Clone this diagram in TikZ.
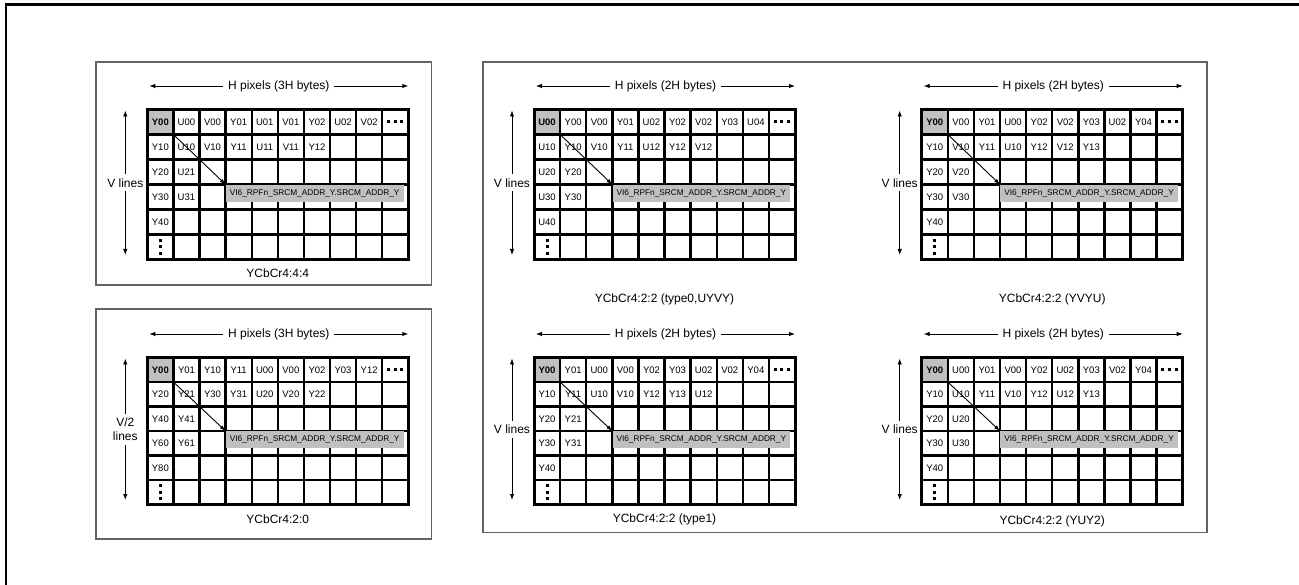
\documentclass[tikz,border=0pt]{standalone}
\usepackage{fontspec}
\setmainfont{Liberation Sans}
\usetikzlibrary{arrows.meta}
\definecolor{cellgray}{RGB}{192,192,192}
\definecolor{boxgray}{RGB}{100,100,100}
\tikzset{
  frame/.style={draw=boxgray, line width=1.3pt},
  gridline/.style={line width=2.4pt},
  gridouter/.style={line width=3pt},
  cell/.style={inner sep=0pt, font=\fontsize{9.5}{11}\selectfont},
  headcell/.style={inner sep=0pt, font=\fontsize{9.5}{11}\selectfont\bfseries},
  dimarrow/.style={line width=0.9pt, {Latex[length=6pt,width=4.5pt]}-{Latex[length=6pt,width=4.5pt]}},
  dimlabel/.style={fill=white, inner xsep=5pt, inner ysep=2pt, font=\fontsize{12}{14}\selectfont},
  vlabel/.style={fill=white, inner xsep=2pt, inner ysep=4pt, align=center, font=\fontsize{12}{14}\selectfont},
  caption/.style={inner sep=0pt, font=\fontsize{12}{14}\selectfont},
  addr/.style={fill=cellgray, inner sep=0pt, anchor=north west, font=\fontsize{8.3}{10}\selectfont, minimum height=17pt},
  ptr/.style={line width=0.9pt, -{Latex[length=6pt,width=4pt]}},
}
\newcommand{\ycpanel}[5]{%
 \begin{scope}[shift={(#2,#3)}]
  \def\cw{26.1}\def\rh{#4}
  \fill[cellgray] (0,0) rectangle (\cw,\rh);
  \foreach \rowlist [count=\rr from 0] in {#5} {
    \foreach \txt [count=\cc from 0] in \rowlist {
      \ifnum\rr\cc=0
        \node[headcell] (#1-\rr-\cc) at ({(\cc+0.5)*\cw},{(\rr+0.5)*\rh}) {\txt};
      \else
        \node[cell] (#1-\rr-\cc) at ({(\cc+0.5)*\cw},{(\rr+0.5)*\rh}) {\txt};
      \fi
    }
  }
  \foreach \i in {1,...,9} \draw[gridline] ({\i*\cw},0) -- ({\i*\cw},{6*\rh});
  \foreach \j in {1,...,5} \draw[gridline] (0,{\j*\rh}) -- ({10*\cw},{\j*\rh});
  \draw[gridouter] (0,0) rectangle ({10*\cw},{6*\rh});
  \foreach \d in {-6.7,0,6.7} {
    \fill ({9.5*\cw+\d-1.5},{0.5*\rh-1.5}) rectangle +(3,3);
    \fill ({0.5*\cw-1.5},{5.5*\rh+\d-1.5}) rectangle +(3,3);
  }
  \node[addr, minimum width={7*\cw-5}] (#1-addr) at ({3*\cw},{3*\rh}) {VI6\_RPFn\_SRCM\_ADDR\_Y.SRCM\_ADDR\_Y};
  \coordinate (#1-corner) at (\cw,\rh);
  \draw[ptr] (#1-corner) -- (#1-addr.north west);
  \coordinate (#1-hl) at (2,-23.5);
  \coordinate (#1-hr) at ({10*\cw},-23.5);
  \coordinate (#1-vt) at (-22,1);
  \coordinate (#1-vb) at (-22,{6*\rh-4.5});
 \end{scope}}
\begin{document}
\begin{tikzpicture}[x=1pt,y=-1pt]
\useasboundingbox (0,0) rectangle (1299,585);
\draw[line width=2.3pt] (6.2,585) -- (6.2,4.5) -- (1299,4.5);
\draw[frame] (96,62) rectangle (431.7,285);
\draw[frame] (96,309) rectangle (431.7,539);
\draw[frame] (483,62) rectangle (1207,532.5);

\ycpanel{pa}{147.3}{109.5}{25}{{Y00,U00,V00,Y01,U01,V01,Y02,U02,V02},{Y10,U10,V10,Y11,U11,V11,Y12},{Y20,U21},{Y30,U31},{Y40}}
\ycpanel{pb}{147.3}{357.5}{24.5}{{Y00,Y01,Y10,Y11,U00,V00,Y02,Y03,Y12},{Y20,Y21,Y30,Y31,U20,V20,Y22},{Y40,Y41},{Y60,Y61},{Y80}}
\ycpanel{pc}{534}{109.5}{25}{{U00,Y00,V00,Y01,U02,Y02,V02,Y03,U04},{U10,Y10,V10,Y11,U12,Y12,V12},{U20,Y20},{U30,Y30},{U40}}
\ycpanel{pd}{921.7}{109.5}{25}{{Y00,V00,Y01,U00,Y02,V02,Y03,U02,Y04},{Y10,V10,Y11,U10,Y12,V12,Y13},{Y20,V20},{Y30,V30},{Y40}}
\ycpanel{pe}{534}{357.5}{24.5}{{Y00,Y01,U00,V00,Y02,Y03,U02,V02,Y04},{Y10,Y11,U10,V10,Y12,Y13,U12},{Y20,Y21},{Y30,Y31},{Y40}}
\ycpanel{pf}{921.7}{357.5}{24.5}{{Y00,U00,Y01,V00,Y02,U02,Y03,V02,Y04},{Y10,U10,Y11,V10,Y12,U12,Y13},{Y20,U20},{Y30,U30},{Y40}}

\draw[dimarrow] (pa-hl) -- node[dimlabel] (pa-h) {H pixels (3H bytes)} (pa-hr);
\draw[dimarrow] (pb-hl) -- node[dimlabel] (pb-h) {H pixels (3H bytes)} (pb-hr);
\draw[dimarrow] (pc-hl) -- node[dimlabel] (pc-h) {H pixels (2H bytes)} (pc-hr);
\draw[dimarrow] (pd-hl) -- node[dimlabel] (pd-h) {H pixels (2H bytes)} (pd-hr);
\draw[dimarrow] (pe-hl) -- node[dimlabel] (pe-h) {H pixels (2H bytes)} (pe-hr);
\draw[dimarrow] (pf-hl) -- node[dimlabel] (pf-h) {H pixels (2H bytes)} (pf-hr);

\draw[dimarrow] (pa-vt) -- node[vlabel] (pa-v) {V lines} (pa-vb);
\draw[dimarrow] (pb-vt) -- node[vlabel] (pb-v) {V/2\\lines} (pb-vb);
\draw[dimarrow] (pc-vt) -- node[vlabel] (pc-v) {V lines} (pc-vb);
\draw[dimarrow] (pd-vt) -- node[vlabel] (pd-v) {V lines} (pd-vb);
\draw[dimarrow] (pe-vt) -- node[vlabel] (pe-v) {V lines} (pe-vb);
\draw[dimarrow] (pf-vt) -- node[vlabel] (pf-v) {V lines} (pf-vb);

\node[caption] (pa-cap) at (277.8,273) {YCbCr4:4:4};
\node[caption] (pb-cap) at (277.8,519) {YCbCr4:2:0};
\node[caption] (pc-cap) at (664.5,299) {YCbCr4:2:2 (type0,UYVY)};
\node[caption] (pd-cap) at (1052.2,299) {YCbCr4:2:2 (YVYU)};
\node[caption] (pe-cap) at (664.5,519) {YCbCr4:2:2 (type1)};
\node[caption] (pf-cap) at (1052.2,521) {YCbCr4:2:2 (YUY2)};
\end{tikzpicture}
\end{document}
